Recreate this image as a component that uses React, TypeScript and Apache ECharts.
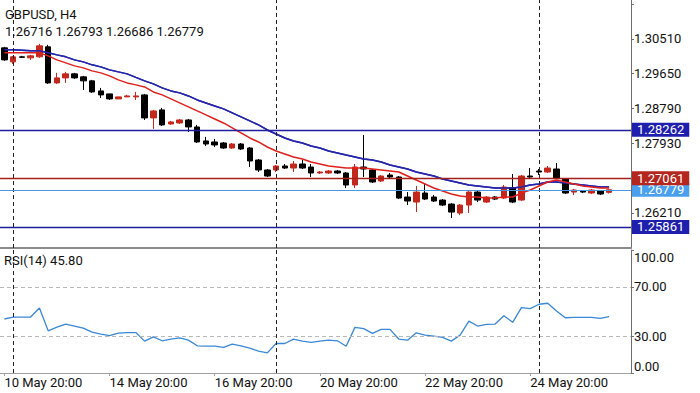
import React, { useEffect, useRef } from "react";
import * as echarts from "echarts";

const symbolTitle = "GBPUSD, H4";

const times = [
  "10 May 20:00",
  "13 May 00:00", "13 May 04:00", "13 May 08:00", "13 May 12:00", "13 May 16:00", "13 May 20:00",
  "14 May 00:00", "14 May 04:00", "14 May 08:00", "14 May 12:00", "14 May 16:00", "14 May 20:00",
  "15 May 00:00", "15 May 04:00", "15 May 08:00", "15 May 12:00", "15 May 16:00", "15 May 20:00",
  "16 May 00:00", "16 May 04:00", "16 May 08:00", "16 May 12:00", "16 May 16:00", "16 May 20:00",
  "17 May 00:00", "17 May 04:00", "17 May 08:00", "17 May 12:00", "17 May 16:00", "17 May 20:00",
  "20 May 00:00", "20 May 04:00", "20 May 08:00", "20 May 12:00", "20 May 16:00", "20 May 20:00",
  "21 May 00:00", "21 May 04:00", "21 May 08:00", "21 May 12:00", "21 May 16:00", "21 May 20:00",
  "22 May 00:00", "22 May 04:00", "22 May 08:00", "22 May 12:00", "22 May 16:00", "22 May 20:00",
  "23 May 00:00", "23 May 04:00", "23 May 08:00", "23 May 12:00", "23 May 16:00", "23 May 20:00",
  "24 May 00:00", "24 May 04:00", "24 May 08:00", "24 May 12:00", "24 May 16:00", "24 May 20:00",
  "27 May 00:00", "27 May 04:00", "27 May 08:00", "27 May 12:00", "27 May 16:00", "27 May 20:00",
  "28 May 00:00", "28 May 04:00", "28 May 08:00",
];
const futureSlots = ["28 May 12:00", "28 May 16:00"];

const opens = [
  1.30287, 1.29941, 1.30065, 1.30040, 1.30065, 1.30312, 1.29421, 1.29545, 1.29644, 1.29570,
  1.29471, 1.29223, 1.29149, 1.29025, 1.29075, 1.29075, 1.29124, 1.28555, 1.28753, 1.28406,
  1.28431, 1.28505, 1.28332, 1.27986, 1.27961, 1.27936, 1.27812, 1.27911, 1.27812, 1.27515,
  1.27268, 1.27268, 1.27367, 1.27317, 1.27416, 1.27342, 1.27194, 1.27194, 1.27243, 1.27194,
  1.26897, 1.27342, 1.27268, 1.26996, 1.27144, 1.27095, 1.26600, 1.26476, 1.26699, 1.26600,
  1.26525, 1.26426, 1.26204, 1.26402, 1.26723, 1.26476, 1.26600, 1.26575, 1.26822, 1.26525,
  1.27119, 1.27243, 1.27218, 1.27293, 1.27045, 1.26723, 1.26748, 1.26699, 1.26748, 1.26716,
];
const highs = [
  1.30312, 1.30089, 1.30089, 1.30114, 1.30386, 1.30362, 1.29669, 1.29693, 1.29669, 1.29594,
  1.29495, 1.29297, 1.29149, 1.29075, 1.29124, 1.29198, 1.29149, 1.28753, 1.28802, 1.28481,
  1.28530, 1.28530, 1.28382, 1.28085, 1.28035, 1.27961, 1.27936, 1.27936, 1.27837, 1.27540,
  1.27293, 1.27392, 1.27416, 1.27491, 1.27515, 1.27416, 1.27243, 1.27268, 1.27268, 1.27218,
  1.27416, 1.28134, 1.27293, 1.27144, 1.27194, 1.27119, 1.26723, 1.26872, 1.26921, 1.26649,
  1.26550, 1.26451, 1.26426, 1.26748, 1.26773, 1.26624, 1.26624, 1.26897, 1.27169, 1.27144,
  1.27317, 1.27293, 1.27367, 1.27441, 1.27070, 1.26798, 1.26773, 1.26798, 1.26773, 1.26793,
];
const lows = [
  1.29966, 1.29891, 1.30040, 1.29990, 1.30040, 1.29396, 1.29396, 1.29421, 1.29520, 1.29248,
  1.29174, 1.29050, 1.29000, 1.29025, 1.29075, 1.29000, 1.28505, 1.28283, 1.28357, 1.28382,
  1.28406, 1.28208, 1.27936, 1.27862, 1.27837, 1.27788, 1.27788, 1.27763, 1.27342, 1.27218,
  1.27095, 1.27218, 1.27293, 1.27218, 1.27293, 1.27095, 1.27169, 1.27169, 1.27169, 1.26822,
  1.26822, 1.27095, 1.26946, 1.26971, 1.27070, 1.26550, 1.26402, 1.26228, 1.26525, 1.26476,
  1.26377, 1.26080, 1.26154, 1.26204, 1.26476, 1.26451, 1.26525, 1.26550, 1.26451, 1.26501,
  1.27070, 1.27144, 1.27194, 1.27045, 1.26674, 1.26649, 1.26699, 1.26674, 1.26649, 1.26686,
];
const closes = [
  1.29990, 1.30065, 1.30052, 1.30089, 1.30337, 1.29421, 1.29545, 1.29644, 1.29545, 1.29471,
  1.29198, 1.29124, 1.29025, 1.29075, 1.29099, 1.29099, 1.28555, 1.28728, 1.28382, 1.28456,
  1.28505, 1.28332, 1.27961, 1.27911, 1.27887, 1.27812, 1.27911, 1.27788, 1.27491, 1.27268,
  1.27119, 1.27367, 1.27317, 1.27416, 1.27317, 1.27194, 1.27218, 1.27243, 1.27194, 1.26897,
  1.27342, 1.27293, 1.26971, 1.27119, 1.27095, 1.26575, 1.26501, 1.26723, 1.26550, 1.26501,
  1.26402, 1.26228, 1.26402, 1.26723, 1.26525, 1.26600, 1.26550, 1.26847, 1.26476, 1.27119,
  1.27095, 1.27218, 1.27317, 1.27070, 1.26699, 1.26773, 1.26723, 1.26773, 1.26674, 1.26779,
];
const maFast = [
  1.30164, 1.30164, 1.30164, 1.30164, 1.30164, 1.30089, 1.29990, 1.29916, 1.29842, 1.29792,
  1.29718, 1.29669, 1.29594, 1.29495, 1.29421, 1.29372, 1.29322, 1.29198, 1.29124, 1.29025,
  1.28926, 1.28827, 1.28728, 1.28629, 1.28530, 1.28431, 1.28307, 1.28184, 1.28060, 1.27961,
  1.27837, 1.27738, 1.27664, 1.27590, 1.27540, 1.27466, 1.27416, 1.27367, 1.27342, 1.27317,
  1.27317, 1.27317, 1.27293, 1.27268, 1.27243, 1.27218, 1.27119, 1.27020, 1.26921, 1.26822,
  1.26748, 1.26674, 1.26624, 1.26600, 1.26600, 1.26575, 1.26575, 1.26600, 1.26600, 1.26699,
  1.26773, 1.26872, 1.26971, 1.27020, 1.26971, 1.26921, 1.26872, 1.26847, 1.26822, 1.26822,
];
const maSlow = [
  1.30238, 1.30238, 1.30226, 1.30213, 1.30213, 1.30164, 1.30114, 1.30065, 1.29990, 1.29941,
  1.29867, 1.29817, 1.29743, 1.29693, 1.29644, 1.29557, 1.29471, 1.29396, 1.29297, 1.29223,
  1.29174, 1.29099, 1.29000, 1.28926, 1.28852, 1.28778, 1.28679, 1.28580, 1.28481, 1.28382,
  1.28258, 1.28159, 1.28060, 1.27986, 1.27936, 1.27862, 1.27812, 1.27738, 1.27689, 1.27639,
  1.27590, 1.27540, 1.27515, 1.27466, 1.27392, 1.27342, 1.27293, 1.27218, 1.27169, 1.27119,
  1.27045, 1.26996, 1.26946, 1.26897, 1.26872, 1.26847, 1.26822, 1.26822, 1.26822, 1.26847,
  1.26897, 1.26921, 1.26971, 1.26971, 1.26946, 1.26921, 1.26897, 1.26872, 1.26847, 1.26847,
];
const rsi14 = [
  43.9, 45.5, 45.5, 45.5, 52.9, 34.3, 37.3, 39.8, 38.2, 36.5,
  33.3, 31.6, 30.4, 32.4, 32.9, 32.9, 25.9, 29.4, 26.2, 27.6,
  28.6, 26.7, 22.1, 21.8, 21.8, 20.8, 23.5, 22.1, 20.2, 17.8,
  16.4, 24.0, 24.0, 27.6, 25.9, 24.9, 25.9, 26.7, 26.2, 21.8,
  37.1, 36.1, 32.2, 35.5, 35.5, 27.6, 26.7, 32.7, 30.8, 30.0,
  28.9, 25.9, 30.8, 42.2, 38.2, 39.6, 39.8, 46.6, 41.2, 53.1,
  52.3, 55.9, 56.7, 50.4, 44.9, 45.3, 45.3, 45.3, 44.4, 45.8,
];

const priceTicks = [1.2621, 1.2707, 1.2793, 1.2879, 1.2965, 1.3051, 1.3137];
const priceTickLabels = [1.2621, 1.2793, 1.2879, 1.2965, 1.3051];
const rsiTicks = [0, 30, 70, 100];
const rsiLevels = [30, 70];
const levelBlueUpper = 1.28262;
const levelRed = 1.27061;
const levelBlueLower = 1.25861;
const separatorTimes = ["13 May 00:00", "20 May 00:00", "27 May 00:00"];
const xLabelTimes = ["10 May 20:00", "14 May 20:00", "16 May 20:00", "20 May 20:00", "22 May 20:00", "24 May 20:00"];

const FONT = "Roboto";

export default function App() {
  const ref = useRef<HTMLDivElement>(null);
  useEffect(() => {
    document.body.style.margin = "0";
    const chart = echarts.init(ref.current!, null, { renderer: "svg" });
    const xData = [...times, ...futureSlots];
    const candleData = times.map((_, i) => [opens[i], closes[i], lows[i], highs[i]]);
    const last = times.length - 1;
    const bid = closes[last];
    const showX = (idx: number) => xLabelTimes.indexOf(xData[idx]) >= 0;

    const makeSepLines = () =>
      separatorTimes.map((t) => ({
        xAxis: t,
        lineStyle: { color: "#222", type: [4, 3], width: 1 },
        label: { show: false },
      }));

    const boxLabel = (txt: string, bg: string) => ({
      show: true,
      position: "end",
      formatter: txt,
      color: "#fff",
      backgroundColor: bg,
      padding: [1, 5, 0, 5],
      fontSize: 13,
      lineHeight: 13,
      fontFamily: FONT,
      distance: 1,
    });

    const option: any = {
      animation: false,
      backgroundColor: "#fff",
      grid: [
        { left: -1, right: 69, top: 0, height: 248 },
        { left: -1, right: 69, top: 250, height: 123 },
      ],
      xAxis: [
        {
          gridIndex: 0,
          type: "category",
          data: xData,
          boundaryGap: true,
          axisLine: { show: true, lineStyle: { color: "#8c8c8c", width: 2 } },
          axisTick: { show: false },
          axisLabel: { show: false },
          splitLine: { show: false },
        },
        {
          gridIndex: 1,
          type: "category",
          data: xData,
          boundaryGap: true,
          axisLine: { show: true, lineStyle: { color: "#a0a0a0", width: 1 } },
          axisTick: {
            show: true,
            alignWithLabel: true,
            interval: (idx: number) => showX(idx),
            length: 3,
            lineStyle: { color: "#a0a0a0" },
          },
          axisLabel: {
            show: true,
            interval: (idx: number) => showX(idx),
            align: "left",
            margin: 3,
            color: "#111",
            fontSize: 13,
            fontFamily: FONT,
          },
          splitLine: { show: false },
        },
      ],
      yAxis: [
        {
          gridIndex: 0,
          type: "value",
          position: "right",
          min: 1.2534,
          max: 1.3147,
          axisLine: { show: true, lineStyle: { color: "#6e6e6e" } },
          axisTick: { show: true, customValues: priceTicks, length: 3, lineStyle: { color: "#6e6e6e" } },
          axisLabel: {
            show: true,
            customValues: priceTickLabels,
            formatter: (v: number) => v.toFixed(5),
            margin: 3,
            color: "#111",
            fontSize: 13,
            lineHeight: 12,
            fontFamily: FONT,
          },
          splitLine: { show: false },
        },
        {
          gridIndex: 1,
          type: "value",
          position: "right",
          min: 0,
          max: 100,
          axisLine: { show: true, lineStyle: { color: "#6e6e6e" } },
          axisTick: { show: true, customValues: rsiTicks, length: 3, lineStyle: { color: "#6e6e6e" } },
          axisLabel: {
            show: true,
            customValues: rsiTicks,
            margin: 3,
            formatter: (v: number) =>
              v === 100 ? `{d|${v.toFixed(2)}}` : v === 0 ? `{u|${v.toFixed(2)}}` : `{n|${v.toFixed(2)}}`,
            rich: {
              d: { padding: [14, 0, 0, 0], fontSize: 13, color: "#111", fontFamily: FONT },
              u: { padding: [0, 0, 14, 0], fontSize: 13, color: "#111", fontFamily: FONT },
              n: { fontSize: 13, color: "#111", fontFamily: FONT },
            },
          },
          splitLine: { show: false },
        },
      ],
      series: [
        {
          type: "line",
          xAxisIndex: 0,
          yAxisIndex: 0,
          data: maSlow,
          symbol: "none",
          z: 1,
          lineStyle: { color: "#2525ad", width: 1.5 },
          markLine: {
            silent: true,
            precision: 5,
            symbol: ["none", "none"],
            label: { show: false },
            data: [
              ...makeSepLines(),
              {
                yAxis: bid,
                lineStyle: { color: "#4a97e0", width: 1, type: "solid" },
                label: boxLabel(bid.toFixed(5), "#4aa0ee"),
              },
              {
                yAxis: levelBlueUpper,
                lineStyle: { color: "#1d1d9e", width: 1.3, type: "solid" },
                label: boxLabel(levelBlueUpper.toFixed(5), "#1f1fae"),
              },
              {
                yAxis: levelBlueLower,
                lineStyle: { color: "#1d1d9e", width: 1.3, type: "solid" },
                label: boxLabel(levelBlueLower.toFixed(5), "#1f1fae"),
              },
              {
                yAxis: levelRed,
                lineStyle: { color: "#a3201a", width: 1.3, type: "solid" },
                label: boxLabel(levelRed.toFixed(5), "#b5261e"),
              },
            ],
          },
        },
        {
          type: "candlestick",
          xAxisIndex: 0,
          yAxisIndex: 0,
          data: candleData,
          barWidth: 6,
          z: 2,
          itemStyle: {
            color: "#c4281c",
            color0: "#000000",
            borderColor: "#c4281c",
            borderColor0: "#000000",
            borderWidth: 1,
          },
        },
        {
          type: "line",
          xAxisIndex: 0,
          yAxisIndex: 0,
          data: maSlow,
          symbol: "none",
          z: 3,
          lineStyle: { color: "#2525ad", width: 1.5 },
        },
        {
          type: "line",
          xAxisIndex: 0,
          yAxisIndex: 0,
          data: maFast,
          symbol: "none",
          z: 3,
          lineStyle: { color: "#e0201c", width: 1.5 },
        },
        {
          type: "line",
          xAxisIndex: 1,
          yAxisIndex: 1,
          data: rsi14,
          symbol: "none",
          lineStyle: { color: "#3a88d6", width: 1.3 },
          markLine: {
            silent: true,
            symbol: ["none", "none"],
            label: { show: false },
            data: [
              ...rsiLevels.map((v) => ({
                yAxis: v,
                lineStyle: { color: "#b8b8b8", type: [4, 3], width: 1 },
              })),
              ...makeSepLines(),
            ],
          },
        },
      ],
      graphic: [
        {
          type: "text",
          left: 5,
          top: 8,
          z: 100,
          style: { text: symbolTitle, font: `13px ${FONT}`, fill: "#111" },
        },
        {
          type: "text",
          left: 5,
          top: 25,
          z: 100,
          style: {
            text: [opens[last], highs[last], lows[last], closes[last]].map((v) => v.toFixed(5)).join(" "),
            font: `13px ${FONT}`,
            fill: "#111",
          },
        },
        {
          type: "text",
          left: 4,
          top: 254,
          z: 100,
          style: { text: `RSI(14) ${rsi14[last].toFixed(2)}`, font: `13px ${FONT}`, fill: "#111" },
        },
      ],
    };
    chart.setOption(option);
    return () => chart.dispose();
  }, []);
  return <div ref={ref} style={{ width: 700, height: 393 }} />;
}
